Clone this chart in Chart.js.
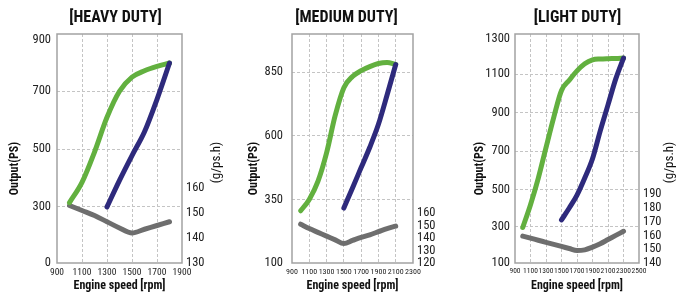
<!DOCTYPE html>
<html>
<head>
<meta charset="utf-8">
<script src="https://cdn.jsdelivr.net/npm/chart.js@4.4.0/dist/chart.umd.min.js"></script>
<style>
  body { margin: 0; background: #fff; }
  .wrap { position: relative; width: 693px; height: 296px; }
  canvas { position: absolute; top: 0; }
</style>
</head>
<body>
<div class="wrap">
  <canvas id="heavy" width="231" height="296" style="left:0px"></canvas>
  <canvas id="medium" width="231" height="296" style="left:231px"></canvas>
  <canvas id="light" width="231" height="296" style="left:462px"></canvas>
</div>
<script>
// [HEAVY DUTY]
const heavyRpm = [1000, 1100, 1200, 1300, 1400, 1500, 1600, 1700, 1800];
const heavyMaxOutput = [315, 385, 490, 610, 700, 755, 780, 797, 810];
const heavyFuel = [153, 151, 149, 146.5, 144, 142, 143.5, 145, 146.5];
const heavyPropRpm = [1300, 1400, 1500, 1600, 1700, 1800];
const heavyPropOutput = [300, 392, 478, 560, 672, 810];
const heavyXTicks = [900, 1100, 1300, 1500, 1700, 1900];
const heavyOutputTicks = [0, 300, 500, 700, 900];
const heavyFuelTicks = [130, 140, 150, 160];

// [MEDIUM DUTY]
const mediumRpm = [1000, 1100, 1200, 1300, 1400, 1500, 1600, 1700, 1800, 1900, 2000, 2100];
const mediumMaxOutput = [305, 350, 421, 533, 680, 789, 833, 856, 872, 884, 888, 880];
const mediumFuel = [151, 147.5, 144.5, 141.5, 138.5, 135.5, 138, 140.5, 142.5, 145, 147.5, 149.5];
const mediumPropRpm = [1500, 1600, 1700, 1800, 1900, 2000, 2100];
const mediumPropOutput = [316, 395, 475, 555, 645, 760, 880];
const mediumXTicks = [900, 1100, 1300, 1500, 1700, 1900, 2100, 2300];
const mediumOutputTicks = [100, 350, 600, 850];
const mediumFuelTicks = [120, 130, 140, 150, 160];

// [LIGHT DUTY]
const lightRpm = [1000, 1100, 1200, 1300, 1400, 1500, 1600, 1700, 1800, 1900, 2000, 2100, 2200, 2300];
const lightMaxOutput = [295, 418, 558, 718, 875, 1015, 1068, 1118, 1158, 1180, 1185, 1187, 1188, 1190];
const lightFuel = [159.5, 158, 156.5, 155, 153.5, 152, 150.5, 149, 149.5, 151.5, 154, 157, 160, 163];
const lightPropRpm = [1500, 1600, 1700, 1800, 1900, 2000, 2100, 2200, 2300];
const lightPropOutput = [336, 400, 470, 560, 660, 805, 940, 1075, 1190];
const lightXTicks = [900, 1100, 1300, 1500, 1700, 1900, 2100, 2300, 2500];
const lightOutputTicks = [100, 300, 500, 700, 900, 1100, 1300];
const lightFuelTicks = [140, 150, 160, 170, 180, 190];

const FONT = "'Roboto Condensed', 'Open Sans Condensed', 'DejaVu Sans Condensed', sans-serif";
const GREEN = "#62b03f";
const BLUE = "#2e2a7c";
const GRAY = "#6e6e6e";
const GRID = "#c4c4c4";

// output axis of the original is not evenly spaced, so map values through stops
class StopScale extends Chart.LinearScale {
  static id = "stops";
  static defaults = {};
  stopList() {
    return this.chart.config.options.scales[this.id].stops;
  }
  getPixelForValue(value) {
    if (value === null || value === undefined) return NaN;
    const s = this.stopList();
    let i = 1;
    while (i < s.length - 1 && value > s[i][0]) i++;
    const [v0, f0] = s[i - 1];
    const [v1, f1] = s[i];
    return this.getPixelForDecimal(f0 + ((value - v0) / (v1 - v0)) * (f1 - f0));
  }
  getValueForPixel(pixel) {
    const d = this.getDecimalForPixel(pixel);
    const s = this.stopList();
    let i = 1;
    while (i < s.length - 1 && d > s[i][1]) i++;
    const [v0, f0] = s[i - 1];
    const [v1, f1] = s[i];
    return v0 + ((d - f0) / (f1 - f0)) * (v1 - v0);
  }
}
Chart.register(StopScale);

const panelDeco = {
  id: "panelDeco",
  beforeDatasetsDraw(chart) {
    const { ctx, chartArea: a } = chart;
    ctx.save();
    ctx.strokeStyle = "#a2a2a2";
    ctx.lineWidth = 1.5;
    ctx.strokeRect(a.left, a.top, a.right - a.left, a.bottom - a.top);
    ctx.restore();
  },
  afterDraw(chart, args, opts) {
    const { ctx, chartArea: a } = chart;
    const mid = (a.top + a.bottom) / 2;
    const vertical = (text, x, y) => {
      ctx.save();
      ctx.translate(x, y);
      ctx.rotate(-Math.PI / 2);
      ctx.fillText(text, 0, 0);
      ctx.restore();
    };
    ctx.save();
    ctx.fillStyle = "#111";
    ctx.textAlign = "center";
    ctx.textBaseline = "middle";
    ctx.font = "bold 12px " + FONT;
    vertical(opts.leftTitle, a.left + opts.leftDx, mid + 20);
    if (opts.rightTitle) {
      ctx.font = "13px " + FONT;
      vertical(opts.rightTitle, a.right + opts.rightDx, mid + 14);
    }
    ctx.restore();
  },
};

const toPoints = (xs, ys) => xs.map((x, i) => ({ x: x, y: ys[i] }));

const line = (data, color, axis) => ({
  data: data,
  yAxisID: axis,
  borderColor: color,
  borderWidth: 5,
  borderCapStyle: "round",
  borderJoinStyle: "round",
  pointRadius: 0,
  cubicInterpolationMode: "monotone",
  fill: false,
});

const gridColor = (vals) => (c) =>
  c.tick && vals.includes(c.tick.value) ? GRID : "rgba(0,0,0,0)";

function makePanel(id, p) {
  return new Chart(document.getElementById(id), {
    type: "line",
    data: {
      datasets: [
        line(toPoints(p.propRpm, p.prop), BLUE, "y"),
        line(toPoints(p.rpm, p.max), GREEN, "y"),
        line(toPoints(p.rpm, p.fuel), GRAY, "y2"),
      ],
    },
    options: {
      responsive: false,
      animation: false,
      devicePixelRatio: 1,
      layout: { padding: 0 },
      plugins: {
        legend: { display: false },
        tooltip: { enabled: false },
        title: {
          display: true,
          text: p.title,
          color: "#111",
          font: { family: FONT, size: 16, weight: "bold" },
          padding: { top: 8, bottom: 6.8 },
        },
        panelDeco: {
          leftTitle: "Output(PS)",
          leftDx: p.leftDx,
          rightTitle: p.rightTitle,
          rightDx: p.rightDx,
        },
      },
      scales: {
        x: {
          type: "linear",
          min: p.xTicks[0],
          max: p.xTicks[p.xTicks.length - 1],
          afterBuildTicks: (axis) => {
            axis.ticks = p.xTicks.map((v) => ({ value: v }));
          },
          afterFit: (axis) => {
            axis.height = 33;
          },
          grid: { color: gridColor(p.xTicks.slice(1, -1)), drawTicks: false },
          border: { display: false, dash: [3, 2] },
          ticks: {
            autoSkip: false,
            maxRotation: 0,
            minRotation: 0,
            padding: 4,
            color: "#222",
            font: { family: FONT, size: p.xFont },
            callback: (v) => String(v),
          },
          title: {
            display: true,
            text: "Engine speed [rpm]",
            color: "#111",
            font: { family: FONT, size: 12, weight: "bold" },
            padding: { top: 0, bottom: 3 },
          },
        },
        y: {
          type: "stops",
          position: "left",
          stops: p.stops,
          min: p.stops[0][0],
          max: p.stops[p.stops.length - 1][0],
          afterBuildTicks: (axis) => {
            axis.ticks = p.yTicks.map((v) => ({ value: v }));
          },
          afterFit: (axis) => {
            axis.width = p.left;
          },
          grid: { color: gridColor(p.yGrid), drawTicks: false },
          border: { display: false, dash: [3, 2] },
          ticks: {
            padding: p.yPad,
            color: "#222",
            font: { family: FONT, size: 12.5 },
            callback: (v) => String(v),
          },
        },
        y2: {
          type: "linear",
          position: "right",
          min: p.fuelMin,
          max: p.fuelMax,
          afterBuildTicks: (axis) => {
            axis.ticks = p.fuelTicks.map((v) => ({ value: v }));
          },
          afterFit: (axis) => {
            axis.width = 231 - p.right;
          },
          grid: { display: false, drawTicks: false },
          border: { display: false },
          ticks: {
            padding: 4,
            color: "#222",
            font: { family: FONT, size: 12.5 },
            callback: (v) => String(v),
          },
        },
      },
    },
    plugins: [panelDeco],
  });
}

makePanel("heavy", {
  title: "[HEAVY DUTY]",
  rpm: heavyRpm, max: heavyMaxOutput, fuel: heavyFuel,
  propRpm: heavyPropRpm, prop: heavyPropOutput,
  xTicks: heavyXTicks, yTicks: heavyOutputTicks, yGrid: [300, 500, 700],
  fuelTicks: heavyFuelTicks, fuelMin: 130, fuelMax: 221.6,
  stops: [[0, 0], [300, 0.245], [500, 0.497], [700, 0.75], [900, 0.974], [925, 1]],
  left: 57, right: 182, yPad: 6, xFont: 9.5,
  leftDx: -42, rightTitle: "(g/ps.h)", rightDx: 35,
});

makePanel("medium", {
  title: "[MEDIUM DUTY]",
  rpm: mediumRpm, max: mediumMaxOutput, fuel: mediumFuel,
  propRpm: mediumPropRpm, prop: mediumPropOutput,
  xTicks: mediumXTicks, yTicks: mediumOutputTicks, yGrid: [350, 600, 850],
  fuelTicks: mediumFuelTicks, fuelMin: 120, fuelMax: 303,
  stops: [[100, 0], [1000, 1]],
  left: 61, right: 182, yPad: 9, xFont: 8,
  leftDx: -38, rightTitle: "", rightDx: 0,
});

makePanel("light", {
  title: "[LIGHT DUTY]",
  rpm: lightRpm, max: lightMaxOutput, fuel: lightFuel,
  propRpm: lightPropRpm, prop: lightPropOutput,
  xTicks: lightXTicks, yTicks: lightOutputTicks, yGrid: [300, 500, 700, 900, 1100],
  fuelTicks: lightFuelTicks, fuelMin: 140, fuelMax: 306,
  stops: [[100, 0], [300, 0.159], [500, 0.321], [700, 0.489], [900, 0.657], [1100, 0.825], [1300, 0.98], [1320, 1]],
  left: 53, right: 177, yPad: 5, xFont: 7.5,
  leftDx: -35, rightTitle: "(g/ps.h)", rightDx: 31,
});
</script>
</body>
</html>
